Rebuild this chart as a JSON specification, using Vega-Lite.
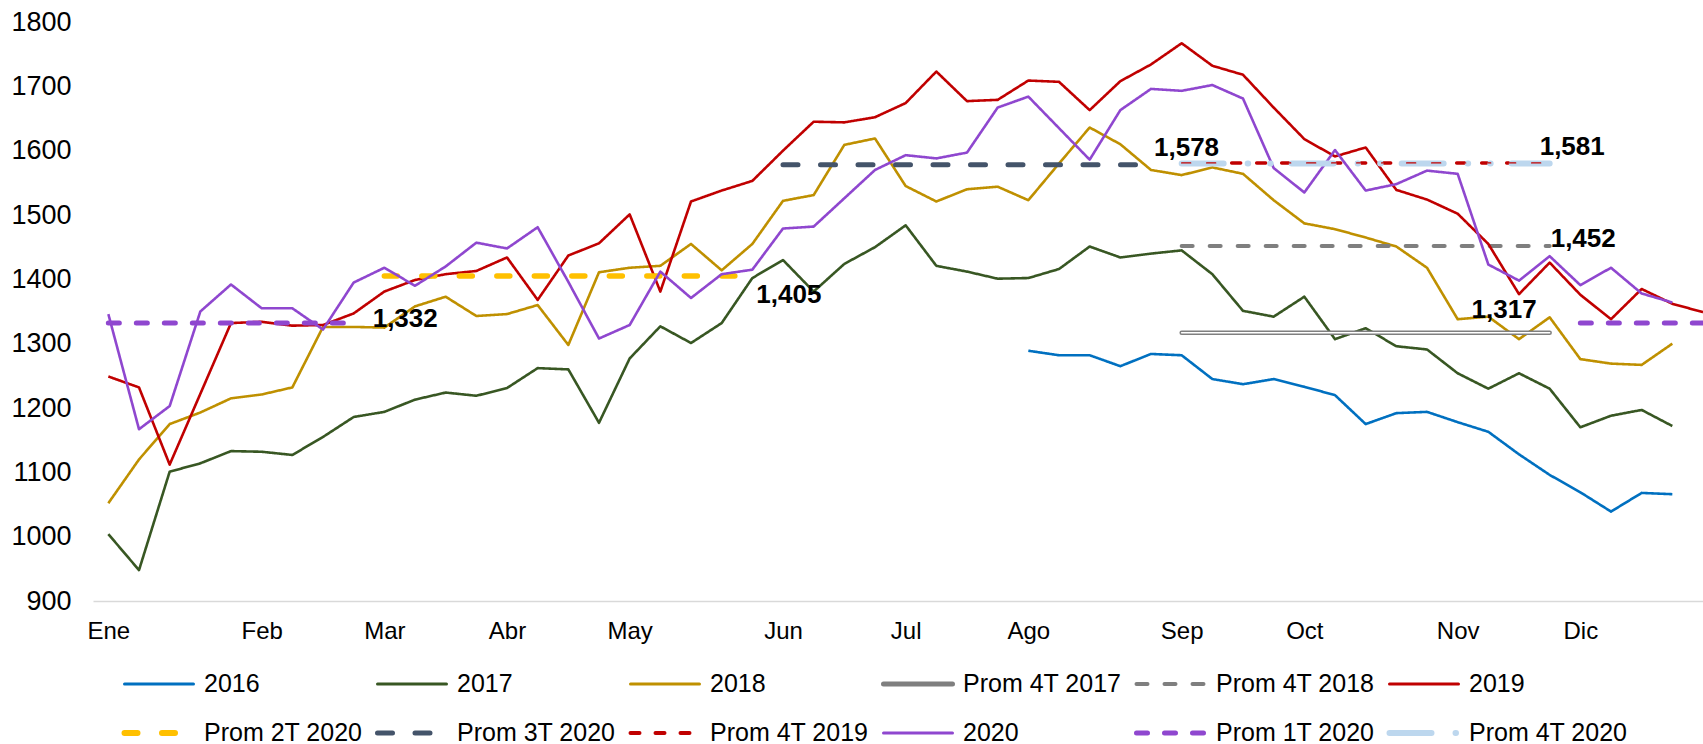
{
"$schema": "https://vega.github.io/schema/vega-lite/v6.json",
"autosize": {"type": "none"},
"padding": {"left": 93, "top": 22, "right": 0, "bottom": 143},
"width": 1610,
"height": 579,
"background": "#ffffff",
"config": {
  "view": {"stroke": null},
  "legend": {"symbolType": "stroke", "symbolSize": 4761, "labelFont": "Liberation Sans", "labelFontSize": 25, "labelColor": "#000000", "labelOffset": 9, "rowPadding": -35, "columnPadding": 2, "gridAlign": "all", "padding": 0, "labelLimit": 0, "columns": 6, "direction": "horizontal"}
},
"datasets": {
"d": [
{"s":"2016","i":30,"v":1289},{"s":"2016","i":31,"v":1282},{"s":"2016","i":32,"v":1282},{"s":"2016","i":33,"v":1265},{"s":"2016","i":34,"v":1284},{"s":"2016","i":35,"v":1282},{"s":"2016","i":36,"v":1245},{"s":"2016","i":37,"v":1237},{"s":"2016","i":38,"v":1245},{"s":"2016","i":39,"v":1233},{"s":"2016","i":40,"v":1220},{"s":"2016","i":41,"v":1175},{"s":"2016","i":42,"v":1192},{"s":"2016","i":43,"v":1194},{"s":"2016","i":44,"v":1178},{"s":"2016","i":45,"v":1163},{"s":"2016","i":46,"v":1128},{"s":"2016","i":47,"v":1096},{"s":"2016","i":48,"v":1069},{"s":"2016","i":49,"v":1039},{"s":"2016","i":50,"v":1068},{"s":"2016","i":51,"v":1066},
{"s":"2017","i":0,"v":1004},{"s":"2017","i":1,"v":948},{"s":"2017","i":2,"v":1101},{"s":"2017","i":3,"v":1114},{"s":"2017","i":4,"v":1133},{"s":"2017","i":5,"v":1132},{"s":"2017","i":6,"v":1127},{"s":"2017","i":7,"v":1155},{"s":"2017","i":8,"v":1186},{"s":"2017","i":9,"v":1194},{"s":"2017","i":10,"v":1213},{"s":"2017","i":11,"v":1224},{"s":"2017","i":12,"v":1219},{"s":"2017","i":13,"v":1231},{"s":"2017","i":14,"v":1262},{"s":"2017","i":15,"v":1260},{"s":"2017","i":16,"v":1177},{"s":"2017","i":17,"v":1277},{"s":"2017","i":18,"v":1327},{"s":"2017","i":19,"v":1301},{"s":"2017","i":20,"v":1332},{"s":"2017","i":21,"v":1402},{"s":"2017","i":22,"v":1430},{"s":"2017","i":23,"v":1381},{"s":"2017","i":24,"v":1424},{"s":"2017","i":25,"v":1450},{"s":"2017","i":26,"v":1484},{"s":"2017","i":27,"v":1421},{"s":"2017","i":28,"v":1412},{"s":"2017","i":29,"v":1401},{"s":"2017","i":30,"v":1402},{"s":"2017","i":31,"v":1416},{"s":"2017","i":32,"v":1451},{"s":"2017","i":33,"v":1434},{"s":"2017","i":34,"v":1440},{"s":"2017","i":35,"v":1445},{"s":"2017","i":36,"v":1408},{"s":"2017","i":37,"v":1351},{"s":"2017","i":38,"v":1342},{"s":"2017","i":39,"v":1373},{"s":"2017","i":40,"v":1307},{"s":"2017","i":41,"v":1324},{"s":"2017","i":42,"v":1296},{"s":"2017","i":43,"v":1291},{"s":"2017","i":44,"v":1254},{"s":"2017","i":45,"v":1230},{"s":"2017","i":46,"v":1254},{"s":"2017","i":47,"v":1230},{"s":"2017","i":48,"v":1170},{"s":"2017","i":49,"v":1188},{"s":"2017","i":50,"v":1197},{"s":"2017","i":51,"v":1172},
{"s":"2018","i":0,"v":1052},{"s":"2018","i":1,"v":1120},{"s":"2018","i":2,"v":1175},{"s":"2018","i":3,"v":1193},{"s":"2018","i":4,"v":1215},{"s":"2018","i":5,"v":1221},{"s":"2018","i":6,"v":1232},{"s":"2018","i":7,"v":1326},{"s":"2018","i":8,"v":1326},{"s":"2018","i":9,"v":1325},{"s":"2018","i":10,"v":1358},{"s":"2018","i":11,"v":1373},{"s":"2018","i":12,"v":1343},{"s":"2018","i":13,"v":1346},{"s":"2018","i":14,"v":1360},{"s":"2018","i":15,"v":1298},{"s":"2018","i":16,"v":1411},{"s":"2018","i":17,"v":1418},{"s":"2018","i":18,"v":1421},{"s":"2018","i":19,"v":1455},{"s":"2018","i":20,"v":1414},{"s":"2018","i":21,"v":1455},{"s":"2018","i":22,"v":1522},{"s":"2018","i":23,"v":1531},{"s":"2018","i":24,"v":1609},{"s":"2018","i":25,"v":1619},{"s":"2018","i":26,"v":1545},{"s":"2018","i":27,"v":1521},{"s":"2018","i":28,"v":1540},{"s":"2018","i":29,"v":1544},{"s":"2018","i":30,"v":1523},{"s":"2018","i":31,"v":1580},{"s":"2018","i":32,"v":1636},{"s":"2018","i":33,"v":1610},{"s":"2018","i":34,"v":1570},{"s":"2018","i":35,"v":1562},{"s":"2018","i":36,"v":1574},{"s":"2018","i":37,"v":1564},{"s":"2018","i":38,"v":1523},{"s":"2018","i":39,"v":1487},{"s":"2018","i":40,"v":1478},{"s":"2018","i":41,"v":1465},{"s":"2018","i":42,"v":1451},{"s":"2018","i":43,"v":1418},{"s":"2018","i":44,"v":1338},{"s":"2018","i":45,"v":1342},{"s":"2018","i":46,"v":1307},{"s":"2018","i":47,"v":1341},{"s":"2018","i":48,"v":1276},{"s":"2018","i":49,"v":1269},{"s":"2018","i":50,"v":1267},{"s":"2018","i":51,"v":1300},
{"s":"2019","i":0,"v":1249},{"s":"2019","i":1,"v":1232},{"s":"2019","i":2,"v":1112},{"s":"2019","i":3,"v":1222},{"s":"2019","i":4,"v":1332},{"s":"2019","i":5,"v":1334},{"s":"2019","i":6,"v":1328},{"s":"2019","i":7,"v":1329},{"s":"2019","i":8,"v":1347},{"s":"2019","i":9,"v":1381},{"s":"2019","i":10,"v":1399},{"s":"2019","i":11,"v":1408},{"s":"2019","i":12,"v":1413},{"s":"2019","i":13,"v":1434},{"s":"2019","i":14,"v":1368},{"s":"2019","i":15,"v":1437},{"s":"2019","i":16,"v":1456},{"s":"2019","i":17,"v":1501},{"s":"2019","i":18,"v":1381},{"s":"2019","i":19,"v":1521},{"s":"2019","i":20,"v":1538},{"s":"2019","i":21,"v":1553},{"s":"2019","i":22,"v":1600},{"s":"2019","i":23,"v":1645},{"s":"2019","i":24,"v":1644},{"s":"2019","i":25,"v":1652},{"s":"2019","i":26,"v":1674},{"s":"2019","i":27,"v":1723},{"s":"2019","i":28,"v":1677},{"s":"2019","i":29,"v":1679},{"s":"2019","i":30,"v":1709},{"s":"2019","i":31,"v":1707},{"s":"2019","i":32,"v":1663},{"s":"2019","i":33,"v":1708},{"s":"2019","i":34,"v":1734},{"s":"2019","i":35,"v":1767},{"s":"2019","i":36,"v":1732},{"s":"2019","i":37,"v":1718},{"s":"2019","i":38,"v":1667},{"s":"2019","i":39,"v":1618},{"s":"2019","i":40,"v":1591},{"s":"2019","i":41,"v":1605},{"s":"2019","i":42,"v":1539},{"s":"2019","i":43,"v":1524},{"s":"2019","i":44,"v":1502},{"s":"2019","i":45,"v":1455},{"s":"2019","i":46,"v":1377},{"s":"2019","i":47,"v":1426},{"s":"2019","i":48,"v":1376},{"s":"2019","i":49,"v":1338},{"s":"2019","i":50,"v":1385},{"s":"2019","i":51,"v":1362},{"s":"2019","i":52,"v":1349},
{"s":"2020","i":0,"v":1346},{"s":"2020","i":1,"v":1167},{"s":"2020","i":2,"v":1203},{"s":"2020","i":3,"v":1350},{"s":"2020","i":4,"v":1392},{"s":"2020","i":5,"v":1355},{"s":"2020","i":6,"v":1355},{"s":"2020","i":7,"v":1322},{"s":"2020","i":8,"v":1395},{"s":"2020","i":9,"v":1418},{"s":"2020","i":10,"v":1390},{"s":"2020","i":11,"v":1420},{"s":"2020","i":12,"v":1457},{"s":"2020","i":13,"v":1448},{"s":"2020","i":14,"v":1481},{"s":"2020","i":15,"v":1396},{"s":"2020","i":16,"v":1308},{"s":"2020","i":17,"v":1329},{"s":"2020","i":18,"v":1412},{"s":"2020","i":19,"v":1371},{"s":"2020","i":20,"v":1408},{"s":"2020","i":21,"v":1415},{"s":"2020","i":22,"v":1479},{"s":"2020","i":23,"v":1482},{"s":"2020","i":24,"v":1526},{"s":"2020","i":25,"v":1570},{"s":"2020","i":26,"v":1593},{"s":"2020","i":27,"v":1588},{"s":"2020","i":28,"v":1597},{"s":"2020","i":29,"v":1667},{"s":"2020","i":30,"v":1684},{"s":"2020","i":31,"v":1635},{"s":"2020","i":32,"v":1586},{"s":"2020","i":33,"v":1663},{"s":"2020","i":34,"v":1696},{"s":"2020","i":35,"v":1693},{"s":"2020","i":36,"v":1702},{"s":"2020","i":37,"v":1681},{"s":"2020","i":38,"v":1573},{"s":"2020","i":39,"v":1535},{"s":"2020","i":40,"v":1601},{"s":"2020","i":41,"v":1538},{"s":"2020","i":42,"v":1548},{"s":"2020","i":43,"v":1569},{"s":"2020","i":44,"v":1564},{"s":"2020","i":45,"v":1423},{"s":"2020","i":46,"v":1398},{"s":"2020","i":47,"v":1436},{"s":"2020","i":48,"v":1391},{"s":"2020","i":49,"v":1418},{"s":"2020","i":50,"v":1378},{"s":"2020","i":51,"v":1364},
{"s":"Prom 1T 2020","t":1,"i":0,"v":1332},{"s":"Prom 1T 2020","t":1,"i":1,"v":1332},{"s":"Prom 1T 2020","t":1,"i":2,"v":1332},{"s":"Prom 1T 2020","t":1,"i":3,"v":1332},{"s":"Prom 1T 2020","t":1,"i":4,"v":1332},{"s":"Prom 1T 2020","t":1,"i":5,"v":1332},{"s":"Prom 1T 2020","t":1,"i":6,"v":1332},{"s":"Prom 1T 2020","t":1,"i":7,"v":1332},{"s":"Prom 1T 2020","t":1,"i":8,"v":1332},
{"s":"Prom 1T 2020","t":2,"i":48,"v":1332},{"s":"Prom 1T 2020","t":2,"i":49,"v":1332},{"s":"Prom 1T 2020","t":2,"i":50,"v":1332},{"s":"Prom 1T 2020","t":2,"i":51,"v":1332},{"s":"Prom 1T 2020","t":2,"i":52,"v":1332},
{"s":"Prom 2T 2020","i":9,"v":1405},{"s":"Prom 2T 2020","i":10,"v":1405},{"s":"Prom 2T 2020","i":11,"v":1405},{"s":"Prom 2T 2020","i":12,"v":1405},{"s":"Prom 2T 2020","i":13,"v":1405},{"s":"Prom 2T 2020","i":14,"v":1405},{"s":"Prom 2T 2020","i":15,"v":1405},{"s":"Prom 2T 2020","i":16,"v":1405},{"s":"Prom 2T 2020","i":17,"v":1405},{"s":"Prom 2T 2020","i":18,"v":1405},{"s":"Prom 2T 2020","i":19,"v":1405},{"s":"Prom 2T 2020","i":20,"v":1405},{"s":"Prom 2T 2020","i":21,"v":1405},
{"s":"Prom 3T 2020","i":22,"v":1578},{"s":"Prom 3T 2020","i":23,"v":1578},{"s":"Prom 3T 2020","i":24,"v":1578},{"s":"Prom 3T 2020","i":25,"v":1578},{"s":"Prom 3T 2020","i":26,"v":1578},{"s":"Prom 3T 2020","i":27,"v":1578},{"s":"Prom 3T 2020","i":28,"v":1578},{"s":"Prom 3T 2020","i":29,"v":1578},{"s":"Prom 3T 2020","i":30,"v":1578},{"s":"Prom 3T 2020","i":31,"v":1578},{"s":"Prom 3T 2020","i":32,"v":1578},{"s":"Prom 3T 2020","i":33,"v":1578},{"s":"Prom 3T 2020","i":34,"v":1578},
{"s":"Prom 4T 2017","i":35,"v":1317},{"s":"Prom 4T 2017","i":36,"v":1317},{"s":"Prom 4T 2017","i":37,"v":1317},{"s":"Prom 4T 2017","i":38,"v":1317},{"s":"Prom 4T 2017","i":39,"v":1317},{"s":"Prom 4T 2017","i":40,"v":1317},{"s":"Prom 4T 2017","i":41,"v":1317},{"s":"Prom 4T 2017","i":42,"v":1317},{"s":"Prom 4T 2017","i":43,"v":1317},{"s":"Prom 4T 2017","i":44,"v":1317},{"s":"Prom 4T 2017","i":45,"v":1317},{"s":"Prom 4T 2017","i":46,"v":1317},{"s":"Prom 4T 2017","i":47,"v":1317},
{"s":"Prom 4T 2018","i":35,"v":1452},{"s":"Prom 4T 2018","i":36,"v":1452},{"s":"Prom 4T 2018","i":37,"v":1452},{"s":"Prom 4T 2018","i":38,"v":1452},{"s":"Prom 4T 2018","i":39,"v":1452},{"s":"Prom 4T 2018","i":40,"v":1452},{"s":"Prom 4T 2018","i":41,"v":1452},{"s":"Prom 4T 2018","i":42,"v":1452},{"s":"Prom 4T 2018","i":43,"v":1452},{"s":"Prom 4T 2018","i":44,"v":1452},{"s":"Prom 4T 2018","i":45,"v":1452},{"s":"Prom 4T 2018","i":46,"v":1452},{"s":"Prom 4T 2018","i":47,"v":1452},
{"s":"Prom 4T 2019","i":35,"v":1581},{"s":"Prom 4T 2019","i":36,"v":1581},{"s":"Prom 4T 2019","i":37,"v":1581},{"s":"Prom 4T 2019","i":38,"v":1581},{"s":"Prom 4T 2019","i":39,"v":1581},{"s":"Prom 4T 2019","i":40,"v":1581},{"s":"Prom 4T 2019","i":41,"v":1581},{"s":"Prom 4T 2019","i":42,"v":1581},{"s":"Prom 4T 2019","i":43,"v":1581},{"s":"Prom 4T 2019","i":44,"v":1581},{"s":"Prom 4T 2019","i":45,"v":1581},{"s":"Prom 4T 2019","i":46,"v":1581},{"s":"Prom 4T 2019","i":47,"v":1581},
{"s":"Prom 4T 2020","i":35,"v":1580},{"s":"Prom 4T 2020","i":36,"v":1580},{"s":"Prom 4T 2020","i":37,"v":1580},{"s":"Prom 4T 2020","i":38,"v":1580},{"s":"Prom 4T 2020","i":39,"v":1580},{"s":"Prom 4T 2020","i":40,"v":1580},{"s":"Prom 4T 2020","i":41,"v":1580},{"s":"Prom 4T 2020","i":42,"v":1580},{"s":"Prom 4T 2020","i":43,"v":1580},{"s":"Prom 4T 2020","i":44,"v":1580},{"s":"Prom 4T 2020","i":45,"v":1580},{"s":"Prom 4T 2020","i":46,"v":1580},{"s":"Prom 4T 2020","i":47,"v":1580}
]
},
"data": {"name": "d"},
"encoding": {
  "x": {"field": "i", "type": "quantitative", "title": null,
    "scale": {"domain": [-0.5, 52], "nice": false, "zero": false},
    "axis": {"values": [0,5,9,13,17,22,26,30,35,39,44,48],
      "labelExpr": "['Ene','Feb','Mar','Abr','May','Jun','Jul','Ago','Sep','Oct','Nov','Dic'][indexof([0,5,9,13,17,22,26,30,35,39,44,48], datum.value)]",
      "domainColor": "#D9D9D9", "domainWidth": 1.5, "ticks": false, "grid": false,
      "labelFont": "Liberation Sans", "labelFontSize": 24, "labelColor": "#000000", "labelPadding": 18, "labelFlush": false, "labelOverlap": false}},
  "y": {"field": "v", "type": "quantitative", "title": null,
    "scale": {"domain": [900, 1800], "nice": false, "zero": false},
    "axis": {"values": [900,1000,1100,1200,1300,1400,1500,1600,1700,1800], "format": "d",
      "domain": false, "ticks": false, "grid": false,
      "labelFont": "Liberation Sans", "labelFontSize": 27, "labelColor": "#000000", "labelPadding": 22, "labelFlush": false}},
  "color": {"field": "s", "type": "nominal", "title": null,
    "scale": {"domain": ["2016","2017","2018","Prom 4T 2017","Prom 4T 2018","2019","Prom 2T 2020","Prom 3T 2020","Prom 4T 2019","2020","Prom 1T 2020","Prom 4T 2020"],
      "range": ["#0070C0","#385723","#BF9000","#7F7F7F","#7F7F7F","#C00000","#FFC000","#44546A","#C00000","#8F47CF","#8F47CF","#BDD7EE"]},
    "legend": {"orient": "none", "legendX": 30, "legendY": 626, "direction": "horizontal", "columns": 6,
      "encode": {"symbols": {"update": {"strokeCap": {"value": "round"},
        "strokeWidth": {"signal": "(indexof(['Prom 2T 2020','Prom 4T 2020'], datum.value) >= 0 ? 6 : (indexof(['Prom 3T 2020','Prom 1T 2020','Prom 4T 2017'], datum.value) >= 0 ? 5 : (indexof(['Prom 4T 2018','Prom 4T 2019'], datum.value) >= 0 ? 4 : 3)))"}}}}}},
  "strokeDash": {"field": "s", "type": "nominal", "title": null,
    "scale": {"domain": ["2016","2017","2018","Prom 4T 2017","Prom 4T 2018","2019","Prom 2T 2020","Prom 3T 2020","Prom 4T 2019","2020","Prom 1T 2020","Prom 4T 2020"],
      "range": [[1,0],[1,0],[1,0],[1,0],[11,17],[1,0],[13,24.5],[15,22.5],[9,16],[1,0],[11,17],[42,24,0.5,22,0.5,21]]}}
},
"layer": [
  {"transform": [{"filter": {"field": "s", "oneOf": ["2016","2017","2018"]}}], "mark": {"type": "line", "strokeWidth": 2.6, "strokeJoin": "round"}},
  {"transform": [{"filter": {"field": "s", "equal": "Prom 4T 2017"}}], "mark": {"type": "line", "strokeWidth": 4.5, "strokeCap": "round"}},
  {"transform": [{"filter": {"field": "s", "equal": "Prom 4T 2017"}}], "mark": {"type": "line", "strokeWidth": 1.6, "strokeCap": "round", "color": "#ffffff"}, "encoding": {"color": {"value": "#ffffff"}, "strokeDash": {"value": [1,0]}}},
  {"transform": [{"filter": {"field": "s", "equal": "Prom 4T 2018"}}], "mark": {"type": "line", "strokeWidth": 4, "strokeCap": "round"}},
  {"transform": [{"filter": {"field": "s", "equal": "2019"}}], "mark": {"type": "line", "strokeWidth": 2.6, "strokeJoin": "round"}},
  {"transform": [{"filter": {"field": "s", "equal": "Prom 2T 2020"}}], "mark": {"type": "line", "strokeWidth": 5.5, "strokeCap": "round"}},
  {"transform": [{"filter": {"field": "s", "equal": "Prom 3T 2020"}}], "mark": {"type": "line", "strokeWidth": 5, "strokeCap": "round"}},
  {"transform": [{"filter": {"field": "s", "equal": "Prom 4T 2019"}}], "mark": {"type": "line", "strokeWidth": 3.5, "strokeCap": "round"}},
  {"transform": [{"filter": {"field": "s", "equal": "2020"}}], "mark": {"type": "line", "strokeWidth": 2.6, "strokeJoin": "round"}},
  {"transform": [{"filter": {"field": "s", "equal": "Prom 1T 2020"}}], "mark": {"type": "line", "strokeWidth": 5, "strokeCap": "round"}, "encoding": {"detail": {"field": "t", "type": "nominal"}}},
  {"transform": [{"filter": {"field": "s", "equal": "Prom 4T 2020"}}], "mark": {"type": "line", "strokeWidth": 6, "strokeCap": "round"}},
  {"transform": [{"filter": {"field": "s", "equal": "Prom 4T 2019"}}], "mark": {"type": "line", "strokeWidth": 1.4, "strokeCap": "round"}, "encoding": {"color": {"value": "#C00000"}, "strokeDash": {"value": [9,16]}}},
  {"transform": [{"filter": "datum.s === 'Prom 1T 2020' && datum.i === 8"}], "mark": {"type": "text", "align": "left", "baseline": "middle", "dx": 19, "dy": -4, "font": "Liberation Sans", "fontSize": 26, "fontWeight": "bold"}, "encoding": {"color": {"value": "#000000"}, "strokeDash": {"value": [1,0]}, "text": {"field": "v", "type": "quantitative", "format": ","}}},
  {"transform": [{"filter": "datum.s === 'Prom 2T 2020' && datum.i === 21"}], "mark": {"type": "text", "align": "left", "baseline": "middle", "dx": 4, "dy": 19, "font": "Liberation Sans", "fontSize": 26, "fontWeight": "bold"}, "encoding": {"color": {"value": "#000000"}, "strokeDash": {"value": [1,0]}, "text": {"field": "v", "type": "quantitative", "format": ","}}},
  {"transform": [{"filter": "datum.s === 'Prom 3T 2020' && datum.i === 34"}], "mark": {"type": "text", "align": "left", "baseline": "middle", "dx": 3, "dy": -17, "font": "Liberation Sans", "fontSize": 26, "fontWeight": "bold"}, "encoding": {"color": {"value": "#000000"}, "strokeDash": {"value": [1,0]}, "text": {"field": "v", "type": "quantitative", "format": ","}}},
  {"transform": [{"filter": "datum.s === 'Prom 4T 2019' && datum.i === 47"}], "mark": {"type": "text", "align": "left", "baseline": "middle", "dx": -10, "dy": -16, "font": "Liberation Sans", "fontSize": 26, "fontWeight": "bold"}, "encoding": {"color": {"value": "#000000"}, "strokeDash": {"value": [1,0]}, "text": {"field": "v", "type": "quantitative", "format": ","}}},
  {"transform": [{"filter": "datum.s === 'Prom 4T 2018' && datum.i === 47"}], "mark": {"type": "text", "align": "left", "baseline": "middle", "dx": 1, "dy": -7, "font": "Liberation Sans", "fontSize": 26, "fontWeight": "bold"}, "encoding": {"color": {"value": "#000000"}, "strokeDash": {"value": [1,0]}, "text": {"field": "v", "type": "quantitative", "format": ","}}},
  {"transform": [{"filter": "datum.s === 'Prom 4T 2017' && datum.i === 47"}], "mark": {"type": "text", "align": "right", "baseline": "middle", "dx": -13, "dy": -23, "font": "Liberation Sans", "fontSize": 26, "fontWeight": "bold"}, "encoding": {"color": {"value": "#000000"}, "strokeDash": {"value": [1,0]}, "text": {"field": "v", "type": "quantitative", "format": ","}}}
]
}
